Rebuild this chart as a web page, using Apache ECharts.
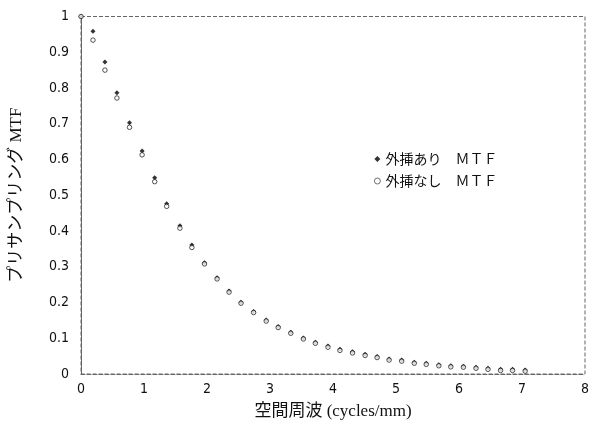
<!DOCTYPE html>
<html><head><meta charset="utf-8">
<script src="https://cdn.jsdelivr.net/npm/echarts@6/dist/echarts.min.js"></script>
<style>html,body{margin:0;padding:0;background:#fff}#c{width:592px;height:434px}</style>
</head><body><div id="c"></div>
<script>
const freq = [0,0.19,0.38,0.57,0.77,0.97,1.17,1.36,1.57,1.76,1.96,2.16,2.35,2.54,2.74,2.94,3.13,3.33,3.53,3.72,3.92,4.11,4.31,4.51,4.70,4.89,5.09,5.29,5.48,5.68,5.87,6.07,6.27,6.46,6.66,6.85,7.05];
const mtfWith = [1.0,0.959,0.873,0.787,0.703,0.624,0.549,0.476,0.415,0.361,0.311,0.269,0.232,0.201,0.175,0.151,0.133,0.117,0.101,0.089,0.078,0.069,0.062,0.055,0.049,0.042,0.039,0.033,0.030,0.026,0.023,0.022,0.019,0.016,0.013,0.013,0.011];
const mtfWithout = [1.0,0.934,0.850,0.772,0.690,0.613,0.538,0.469,0.408,0.354,0.308,0.266,0.229,0.198,0.172,0.148,0.130,0.114,0.098,0.086,0.075,0.066,0.059,0.052,0.046,0.039,0.036,0.030,0.027,0.023,0.020,0.019,0.016,0.013,0.010,0.010,0.008];
const seriesNames = ['外挿あり　ＭＴＦ','外挿なし　ＭＴＦ'];
const xTitle = '空間周波 (cycles/mm)';
const yTitle = 'プリサンプリング MTF';

const chart = echarts.init(document.getElementById('c'));
const tickFont = {color:'#111', fontSize:14, fontFamily:'DejaVu Sans Condensed, Liberation Sans, sans-serif'};
chart.setOption({
  animation:false,
  grid:{left:81, right:4, top:16.5, bottom:60, show:true, borderColor:'#666', borderWidth:1, borderType:'dashed', backgroundColor:'transparent'},
  legend:{
    orient:'vertical', left:369, top:147, itemGap:8, itemWidth:6, itemHeight:6,
    textStyle:{color:'#111', fontSize:14, lineHeight:14, fontFamily:'Noto Sans CJK JP, sans-serif'},
    data:[{name:seriesNames[0], icon:'diamond'},{name:seriesNames[1], icon:'circle', itemStyle:{color:'#fff', borderColor:'#222', borderWidth:0.8}}]
  },
  xAxis:{
    type:'value', min:0, max:8, interval:1,
    name:xTitle, nameLocation:'middle', nameGap:29,
    nameTextStyle:{color:'#111', fontSize:17, fontFamily:'Liberation Serif, Noto Sans CJK JP, serif'},
    axisLine:{show:true, lineStyle:{color:'#666', type:'dashed', width:1}},
    axisTick:{show:false}, splitLine:{show:false},
    axisLabel:Object.assign({margin:8}, tickFont)
  },
  yAxis:{
    type:'value', min:0, max:1, interval:0.1,
    name:yTitle, nameLocation:'middle', nameGap:56, nameRotate:90,
    nameTextStyle:{color:'#111', fontSize:17, fontFamily:'Liberation Serif, Noto Sans CJK JP, serif'},
    axisLine:{show:true, lineStyle:{color:'#666', type:'solid', width:1}},
    axisTick:{show:false}, splitLine:{show:false},
    axisLabel:Object.assign({margin:12, formatter:v=>String(Math.round(v*10)/10)}, tickFont)
  },
  series:[
    {name:seriesNames[0], type:'scatter', symbol:'diamond', symbolSize:5,
     itemStyle:{color:'#000'}, data:freq.map((f,i)=>[f,mtfWith[i]]), z:2},
    {name:seriesNames[1], type:'scatter', symbol:'circle', symbolSize:4.5,
     itemStyle:{color:'#fff', borderColor:'#111', borderWidth:0.9}, data:freq.map((f,i)=>[f,mtfWithout[i]]), z:3}
  ]
});
</script></body></html>
